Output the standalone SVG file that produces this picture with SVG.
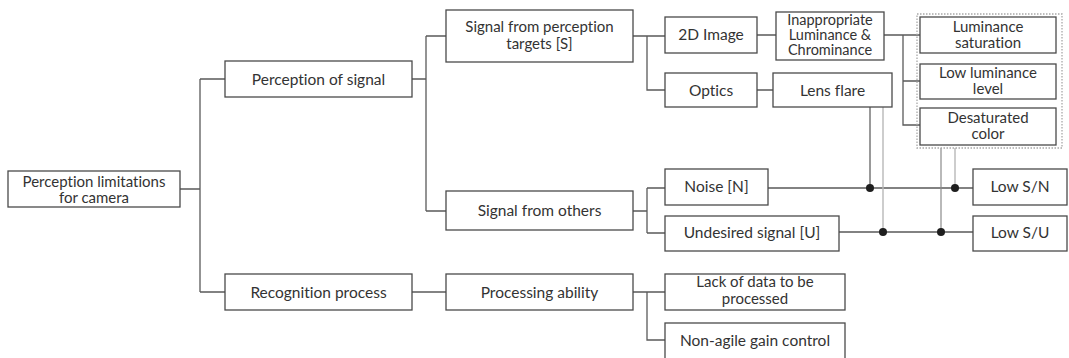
<svg xmlns="http://www.w3.org/2000/svg" width="1069" height="358" viewBox="0 0 1069 358">
  <style>
    .box { fill: #ffffff; stroke: #4a4a4a; stroke-width: 1.3; }
    .lbl { font-family: Lato, "Noto Sans CJK KR", sans-serif; font-size: 15.5px; fill: #333333; text-anchor: middle; font-variant-ligatures: none; }
    .two { font-size: 15px; }
    .three { font-size: 14.5px; }
    .wire { fill: none; stroke: #5a5a5a; stroke-width: 1.3; }
    .wire-dark { fill: none; stroke: #555555; stroke-width: 1.2; }
    .wire-mid { fill: none; stroke: #8a8a8a; stroke-width: 1.2; }
    .wire-light { fill: none; stroke: #b8b8b8; stroke-width: 1.4; }
    .dot { fill: #1e1e1e; }
    .group { fill: none; stroke: #a8a8a8; stroke-width: 1.3; stroke-dasharray: 1.5 1.5; }
  </style>
  <rect width="1069" height="358" fill="#ffffff"/>

  <!-- tree connectors -->
  <g id="connectors">
    <path class="wire" d="M180,189 H200 M200,79 V292 M200,79 H225 M200,292 H225"/>
    <path class="wire" d="M412,79 H426 M426,36 V211 M426,36 H446 M426,211 H446"/>
    <path class="wire" d="M412,292 H446"/>
    <path class="wire" d="M633,36 H647 M647,36 V90 H665 M647,36 H665"/>
    <path class="wire" d="M633,211 H647 M647,188 V233 M647,188 H665 M647,233 H665"/>
    <path class="wire" d="M633,292 H647 M647,292 V340 H665 M647,292 H665"/>
    <path class="wire" d="M757,35 H776 M757,90 H773"/>
    <path class="wire" d="M884,35 H903 V125 H920 M903,81 H920 M903,35 H920"/>
    <path class="wire" d="M768,188 H973 M839,232 H973"/>
    <!-- cross links into the noise / undesired rows -->
    <path class="wire-dark" d="M870,107 V188"/>
    <path class="wire-light" d="M883,107 V232"/>
    <path class="wire-mid" d="M941,148 V232"/>
    <path class="wire-light" d="M955,148 V188"/>
    <circle class="dot" cx="870" cy="188" r="4"/>
    <circle class="dot" cx="883" cy="232" r="4"/>
    <circle class="dot" cx="941" cy="232" r="4"/>
    <circle class="dot" cx="955" cy="188" r="4"/>
  </g>

  <g id="root">
    <rect class="box" x="8" y="171" width="172" height="36"/>
    <text class="lbl two" x="94" y="187">Perception limitations</text>
    <text class="lbl two" x="94" y="203">for camera</text>
  </g>
  <g id="perception-of-signal">
    <rect class="box" x="225" y="61" width="187" height="36"/>
    <text class="lbl" x="318.5" y="85">Perception of signal</text>
  </g>
  <g id="recognition-process">
    <rect class="box" x="225" y="274" width="187" height="36"/>
    <text class="lbl" x="318.5" y="298">Recognition process</text>
  </g>
  <g id="signal-targets">
    <rect class="box" x="446" y="10" width="187" height="52"/>
    <text class="lbl two" x="539.5" y="32">Signal from perception</text>
    <text class="lbl two" x="539.5" y="49">targets [S]</text>
  </g>
  <g id="signal-others">
    <rect class="box" x="446" y="191" width="187" height="39"/>
    <text class="lbl" x="539.5" y="216">Signal from others</text>
  </g>
  <g id="processing-ability">
    <rect class="box" x="446" y="274" width="187" height="36"/>
    <text class="lbl" x="539.5" y="298">Processing ability</text>
  </g>
  <g id="image-2d">
    <rect class="box" x="665" y="17" width="92" height="36"/>
    <text class="lbl" x="711" y="40">2D Image</text>
  </g>
  <g id="optics">
    <rect class="box" x="665" y="73" width="92" height="34"/>
    <text class="lbl" x="711" y="96">Optics</text>
  </g>
  <g id="inappropriate">
    <rect class="box" x="776" y="12" width="108" height="48"/>
    <text class="lbl three" x="830" y="25">Inappropriate</text>
    <text class="lbl three" x="830" y="40">Luminance &amp;</text>
    <text class="lbl three" x="830" y="55">Chrominance</text>
  </g>
  <g id="lens-flare">
    <rect class="box" x="773" y="73" width="119" height="34"/>
    <text class="lbl" x="832.5" y="96">Lens flare</text>
  </g>
  <g id="luminance-group">
    <rect class="group" x="917" y="14" width="145" height="134"/>
  </g>
  <g id="luminance-saturation">
    <rect class="box" x="920" y="17" width="136" height="36"/>
    <text class="lbl two" x="988" y="32">Luminance</text>
    <text class="lbl two" x="988" y="48">saturation</text>
  </g>
  <g id="low-luminance">
    <rect class="box" x="920" y="64" width="136" height="35"/>
    <text class="lbl two" x="988" y="78">Low luminance</text>
    <text class="lbl two" x="988" y="94">level</text>
  </g>
  <g id="desaturated-color">
    <rect class="box" x="920" y="108" width="136" height="37"/>
    <text class="lbl two" x="988" y="123">Desaturated</text>
    <text class="lbl two" x="988" y="139">color</text>
  </g>
  <g id="noise">
    <rect class="box" x="665" y="169" width="103" height="36"/>
    <text class="lbl" x="716.5" y="192">Noise [N]</text>
  </g>
  <g id="undesired-signal">
    <rect class="box" x="665" y="216" width="174" height="35"/>
    <text class="lbl" x="752" y="238">Undesired signal [U]</text>
  </g>
  <g id="low-sn">
    <rect class="box" x="973" y="169" width="94" height="36"/>
    <text class="lbl" x="1020" y="192">Low S/N</text>
  </g>
  <g id="low-su">
    <rect class="box" x="973" y="216" width="94" height="35"/>
    <text class="lbl" x="1020" y="238">Low S/U</text>
  </g>
  <g id="lack-of-data">
    <rect class="box" x="665" y="274" width="180" height="36"/>
    <text class="lbl two" x="755" y="287">Lack of data to be</text>
    <text class="lbl two" x="755" y="304">processed</text>
  </g>
  <g id="non-agile-gain">
    <rect class="box" x="665" y="323" width="180" height="37"/>
    <text class="lbl" x="755" y="346">Non-agile gain control</text>
  </g>
</svg>
